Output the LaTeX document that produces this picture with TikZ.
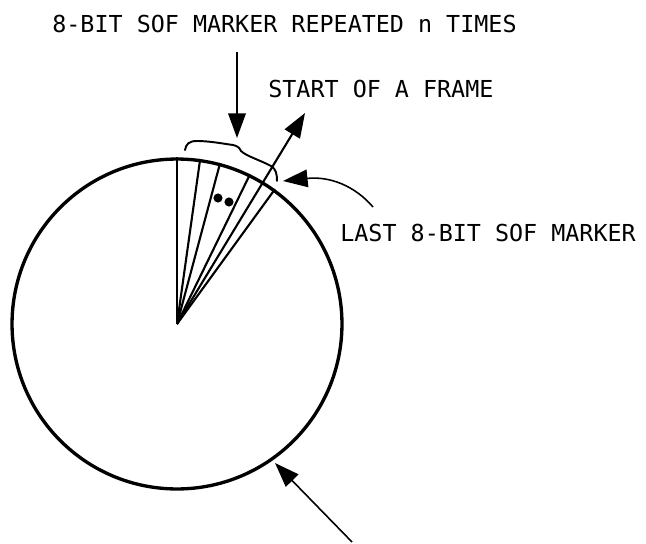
\documentclass[tikz,border=0pt]{standalone}
\usepackage{fontspec}
\newfontfamily\lblfont{DejaVu Sans Mono}
\usetikzlibrary{arrows.meta,calc}
\tikzset{
  lbl/.style={font=\lblfont\fontsize{13.3pt}{15pt}\selectfont, inner sep=0pt, anchor=base west},
  fanline/.style={line width=1.2pt},
  callout/.style={line width=0.9pt, -{Triangle[length=14pt,width=10pt]}},
  dotmark/.style={circle, fill=black, inner sep=0pt, minimum size=5.2pt},
}
\begin{document}
\begin{tikzpicture}[x=0.02cm,y=-0.02cm]
\useasboundingbox (0,0) rectangle (646,544);
% disk
\node[draw, circle, line width=1.9pt, minimum size=6.6cm, inner sep=0pt] (disk) at (177,324) {};
% fan of markers
\draw[fanline] (disk.center) -- (disk.90);
\draw[fanline] (disk.center) -- (disk.82.2);
\draw[fanline] (disk.center) -- (disk.75.3);
\draw[fanline] (disk.center) -- (disk.64.5);
\draw[fanline] (disk.center) -- (disk.54);
% start of frame ray
\coordinate (sofTip) at (305,113);
\draw[fanline, -{Triangle[length=14pt,width=10pt]}] (disk.center) -- (sofTip);
% dots
\node[dotmark] (dotA) at (218,198) {};
\node[dotmark] (dotB) at (229,202) {};
% brace
\draw[line width=1.1pt, line cap=round]
  (185,150) .. controls (186,144) and (189,141) .. (197,141)
  .. controls (210,141) and (225,144) .. (233,145)
  .. controls (237,146) and (239,147) .. (241,151)
  .. controls (246,156) and (262,161) .. (271,166)
  .. controls (276,169) and (277,174) .. (277,181);
% labels
\node[lbl] (repText) at (52,33) {8-BIT SOF MARKER REPEATED n TIMES};
\node[lbl] (startText) at (268,98) {START OF A FRAME};
\node[lbl] (lastText) at (340,241) {LAST 8-BIT SOF MARKER};
% down arrow
\coordinate (downTop) at (237,52);
\coordinate (downTip) at (237,138);
\draw[callout] (downTop) -- (downTip);
% last SOF marker arrow
\coordinate (lastStart) at (373,207);
\coordinate (lastTip) at (283,181);
\draw[callout] (lastStart) .. controls (355,186) and (330,176) .. (lastTip);
% bottom arrow
\coordinate (botStart) at (352,542);
\draw[callout, shorten >=2pt] (botStart) -- (disk.-55);
\end{tikzpicture}
\end{document}
